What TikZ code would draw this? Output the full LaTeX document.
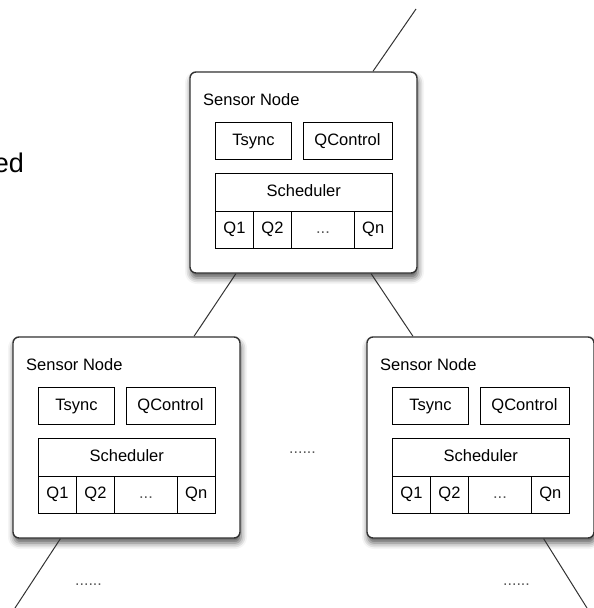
\documentclass[tikz,border=0pt]{standalone}
\usepackage{fontspec}
\setmainfont{Liberation Sans}
\usetikzlibrary{shadows.blur}
\tikzset{
  outerbox/.style={draw=black!80, line width=1.4pt, fill=white, rounded corners=6pt,
    minimum width=227pt, minimum height=201pt, inner sep=0pt,
    blur shadow={shadow xshift=1pt, shadow yshift=-5pt, shadow blur radius=6pt, shadow opacity=65}},
  cell/.style={draw=black, line width=0.9pt, inner sep=0pt, text height=12pt, text depth=3.5pt,
    font=\fontsize{16.5}{18}\selectfont},
  titletext/.style={anchor=base west, inner sep=0pt, font=\fontsize{16.5}{18}\selectfont},
  link/.style={draw=black!80, line width=1pt},
  dotstext/.style={anchor=base, inner sep=0pt, text=black!65, font=\fontsize{16}{18}\selectfont},
  pics/sensornode/.style={code={
    \node[outerbox] (-box) at (113.5,100.5) {};
    \node[titletext] (-title) at (13,33) {Sensor Node};
    \node[cell, minimum width=76pt, minimum height=37pt] (-tsync) at (63.5,69) {Tsync};
    \node[cell, minimum width=89pt, minimum height=37pt] (-qctl) at (157.5,69) {QControl};
    \node[cell, minimum width=176.5pt, minimum height=38pt] (-sched) at (113.75,120) {Scheduler};
    \node[cell, minimum width=38pt, minimum height=37pt] (-q1) at (44.5,157.5) {Q1};
    \node[cell, minimum width=38pt, minimum height=37pt] (-q2) at (82.5,157.5) {Q2};
    \node[cell, minimum width=63pt, minimum height=37pt, text=black!65] (-qd) at (133,157.5) {...};
    \node[cell, minimum width=37.5pt, minimum height=37pt] (-qn) at (183.25,157.5) {Qn};
  }}
}
\begin{document}
\begin{tikzpicture}[x=1pt, y=-1pt]
  \useasboundingbox (0,0) rectangle (594,608);
  \pic (top) at (190,72) {sensornode};
  \pic (left) at (13,337) {sensornode};
  \pic (right) at (367,337) {sensornode};
  \node[anchor=base east, inner sep=0pt, font=\fontsize{27}{30}\selectfont] (ed) at (24,172) {ed};
  \coordinate (topend) at (416,9);
  \coordinate (lend) at (15,608);
  \coordinate (rend) at (587,608);
  \draw[link] (top-box) -- (topend);
  \draw[link] (top-box) -- (left-box);
  \draw[link] (top-box) -- (right-box);
  \draw[link] (left-box) -- (lend);
  \draw[link] (right-box) -- (rend);
  \node[dotstext] (mdots) at (302.5,453) {......};
  \node[dotstext] (ldots) at (88.5,585) {......};
  \node[dotstext] (rdots) at (516.5,585) {......};
\end{tikzpicture}
\end{document}
